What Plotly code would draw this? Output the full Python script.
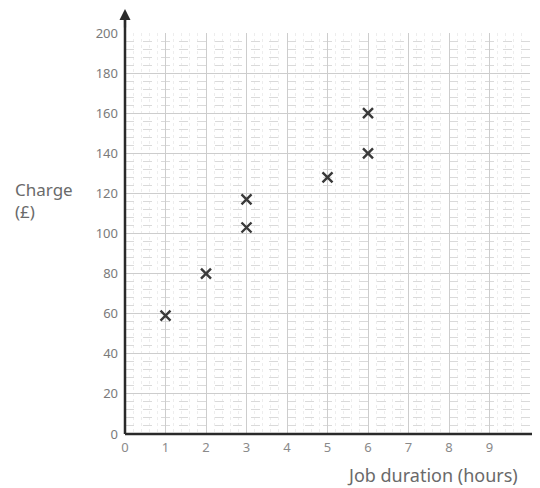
import plotly.graph_objects as go

# Data
hours = [1, 2, 3, 3, 5, 6, 6]
charge = [59, 80, 117, 103, 128, 160, 140]
x_ticks = [0, 1, 2, 3, 4, 5, 6, 7, 8, 9, 10]
x_tick_text = ["0", "1", "2", "3", "4", "5", "6", "7", "8", "9", ""]
y_ticks = [0, 20, 40, 60, 80, 100, 120, 140, 160, 180, 200]

FONT = "Comic Sans MS, Noto Sans, DejaVu Sans, sans-serif"
TXT = "#6a6a6a"

fig = go.Figure()
fig.add_trace(go.Scatter(
    x=hours, y=charge, mode="markers",
    marker=dict(symbol="x-thin", size=10, line=dict(width=2.4, color="#3a3a3a"), color="#3a3a3a"),
    showlegend=False, hoverinfo="x+y",
))

# page has an 8px body margin, so the figure is sized/offset to compensate
fig.update_layout(
    width=532, height=480,
    margin=dict(l=117, r=10, t=25, b=54),
    paper_bgcolor="white", plot_bgcolor="white",
    font=dict(family=FONT, color=TXT, size=13),
    xaxis=dict(
        range=[0, 10], tickvals=x_ticks, ticktext=x_tick_text,
        showgrid=True, gridcolor="#cdcdcd", gridwidth=1,
        zeroline=False, showline=False, ticks="", ticklabelstandoff=4,
        tickfont=dict(size=13, color="#8a8a8a"),
        minor=dict(dtick=0.2, showgrid=True, gridcolor="#ededed", griddash="dot", gridwidth=1),
    ),
    yaxis=dict(
        range=[0, 200], tickvals=y_ticks,
        showgrid=True, gridcolor="#cdcdcd", gridwidth=1,
        zeroline=False, showline=False, ticks="", ticklabelstandoff=6,
        tickfont=dict(size=13, color="#7a7a7a"),
        minor=dict(dtick=4, showgrid=True, gridcolor="#dadada", griddash="dash", gridwidth=1),
    ),
)

# Axis lines (x axis extends past the grid, y axis ends with an arrow)
fig.add_shape(type="line", xref="paper", yref="paper", x0=0, x1=1.025, y0=0, y1=0,
              line=dict(color="#2a2a2a", width=2.5))
fig.add_shape(type="line", xref="paper", yref="paper", x0=0, x1=0, y0=0, y1=1.04,
              line=dict(color="#2a2a2a", width=2.5))
fig.add_annotation(xref="paper", yref="paper", x=0, y=1.06, ax=0, ay=20,
                   text="", showarrow=True, arrowhead=2, arrowsize=1, arrowwidth=2.2,
                   arrowcolor="#2a2a2a")

fig.add_annotation(xref="paper", yref="paper", x=-0.276, y=0.583, xanchor="left", yanchor="middle",
                   text="Charge<br>(£)", showarrow=False, align="left",
                   font=dict(size=17, color=TXT, family=FONT))
fig.add_annotation(xref="paper", yref="paper", x=0.76, y=-0.102, xanchor="center", yanchor="middle",
                   text="Job duration (hours)", showarrow=False,
                   font=dict(size=18, color=TXT, family=FONT))

fig.write_html("out.html")
